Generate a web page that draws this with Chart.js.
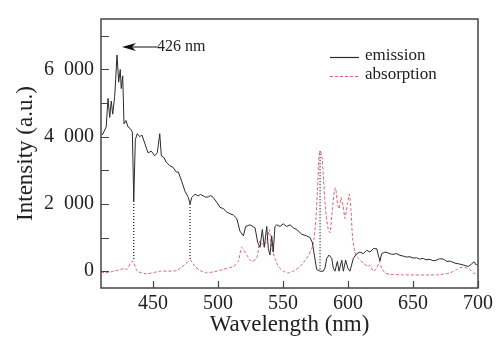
<!DOCTYPE html>
<html>
<head>
<meta charset="utf-8">
<script src="https://cdn.jsdelivr.net/npm/chart.js@4"></script>
<style>
  html, body { margin: 0; padding: 0; background: #fff; }
  #box { width: 497px; height: 339px; }
</style>
</head>
<body>
<div id="box"><canvas id="spectrum"></canvas></div>
<script>
// emission spectrum (solid black)
const emissionNm = [411, 414, 415.4, 416.7, 417.9, 419, 420.5, 421.3, 422.3, 423.6, 424.8, 425.6, 426.7, 427.7,
  429.2, 430.8, 432.5, 434.1, 435.2, 436.4, 437.9, 439.8, 441.5, 443.6, 446.2, 448.7, 451.3, 453.3, 455.2,
  456.4, 458.5, 460.2, 462.8, 465.4, 467.9, 469.5, 472.1, 474.6, 477.2, 478.5, 479.8, 482.3, 484.8, 486.5,
  488.7, 490.5, 492.5, 494.5, 496.4, 499, 501.5, 504.1, 506.7, 509.2, 511.8, 514.4, 516.9, 519.5, 521.3,
  524.6, 528.5, 530.5, 532.3, 534.1, 535.6, 537.5, 538.7, 540, 541.3, 542.5, 543.8, 545.2, 547.7, 550.2,
  552.8, 555.4, 557.9, 560.5, 564.4, 568.2, 570.8, 572.5, 574.1, 575.9, 578.5, 581, 582.3, 583.6, 585.4,
  587.5, 588.7, 590, 591.8, 593.1, 595.2, 596.4, 598.2, 599.8, 601.5, 604.1, 606.7, 609.2, 611.8, 614.4,
  616.9, 619.5, 622.1, 623.3, 624.6, 625.9, 628.5, 631, 633.6, 637.5, 640, 642.5, 645, 647.7, 650, 652.8,
  655, 657.9, 660, 663.1, 665.5, 668.2, 670.5, 673.3, 676, 678.5, 682.3, 686.2, 690, 692.5, 695.2, 696.9,
  698.5, 699.5];
const emissionVal = [4050, 4290, 5140, 4570, 5060, 4670, 5190, 5710, 6430, 5620, 6000, 5430, 5810, 4380,
  4480, 4290, 4240, 4140, 2090, 3910, 4090, 4000, 4050, 3810, 3520, 3570, 3430, 3520, 4090,
  3430, 3380, 3240, 3140, 3090, 2950, 2950, 2670, 2380, 2190, 2000, 2190, 2290, 2240, 2280,
  2240, 2200, 2210, 2250, 2190, 2050, 1900, 1860, 1760, 1710, 1670, 1570, 1190, 1050, 1330,
  1380, 1290, 860, 710, 1240, 710, 1330, 670, 480, 1050, 570, 1330, 1380, 1330, 1410,
  1330, 1380, 1290, 1240, 1100, 1050, 1000, 860, 480, 50, 0, 0, 95, 380, 480,
  380, 95, 0, 290, 0, 330, 0, 330, 95, 0, 380, 520, 570, 520, 620,
  570, 670, 670, 480, 300, 520, 570, 540, 500, 520, 470, 450, 420, 430, 390, 400,
  360, 380, 340, 350, 310, 330, 370, 360, 290, 300, 240, 210, 170, 140, 220, 280,
  190, 200];

// absorption spectrum (red dashed)
const absorptionNm = [410, 413.1, 420, 428.2, 429.8, 434.2, 437.5, 438.5, 445.2, 455.4, 468.2, 477.2, 478.8,
  482.3, 486.2, 491.3, 496.4, 504.1, 511.8, 515.6, 518.2, 522.1, 525.9, 529.8, 532.3, 534.8, 537.5,
  539.5, 541.3, 543.8, 546.4, 550.2, 554.1, 557.9, 563.1, 568.2, 572.1, 573.8, 575.4, 576.5, 577.7,
  578.8, 580.2, 581.3, 582.8, 584.8, 586.2, 587.9, 589.5, 590.5, 592.1, 593.3, 594.6, 596.2, 597.7,
  599.5, 601, 602.3, 603.6, 605.4, 607.9, 611.8, 615.6, 616.9, 619.5, 622.1, 624.1, 625.9, 628.5,
  632.3, 642.5, 668.2, 678.5, 683.6, 686.2, 690, 693.8, 696.4, 699.5];
const absorptionVal = [-20, -50, 0, 80, 50, 300, 20, -20, -80, 0, 20, 290, 330,
  140, 20, -50, -20, 50, 140, 290, 710, 480, 290, 380, 900, 760, 900,
  1240, 710, 380, 140, 0, -50, 0, 140, 380, 670, 950, 1620, 2380, 3430,
  3570, 3330, 2670, 1810, 1240, 1140, 1810, 2380, 2480, 1950, 1860, 2190, 1950, 1570,
  2000, 2290, 1810, 950, 570, 380, 240, 140, 190, 0, 95, 290, 95, -50,
  -95, -110, -110, -50, 50, 110, 110, 50, -50, -100];

// dotted connectors between emission dips and absorption peaks
const dropNm = [435.2, 478.5, 578.5];
const dropTop = [2090, 2000, 3570];
const dropBottom = [300, 330, 0];

const xTicks = [450, 500, 550, 600, 650, 700];
const yTicks = [0, 1000, 2000, 3000, 4000, 5000, 6000, 7000];

const serif = "'Liberation Serif', 'DejaVu Serif', serif";

function toPoints(xs, ys) {
  return xs.map((x, i) => ({ x: x, y: ys[i] }));
}

const datasets = [
  {
    label: "emission",
    data: toPoints(emissionNm, emissionVal),
    borderColor: "#2b2b2b",
    borderWidth: 1,
    showLine: true,
    pointRadius: 0,
    tension: 0,
  },
  {
    label: "absorption",
    data: toPoints(absorptionNm, absorptionVal),
    borderColor: "#e0606f",
    borderWidth: 1,
    borderDash: [3, 2],
    showLine: true,
    pointRadius: 0,
    tension: 0.2,
  },
];

dropNm.forEach((nm, i) => {
  datasets.push({
    label: "drop" + i,
    data: [{ x: nm, y: dropTop[i] }, { x: nm, y: dropBottom[i] }],
    borderColor: "#111",
    borderWidth: 1.2,
    borderDash: [1, 2],
    showLine: true,
    pointRadius: 0,
  });
});

// inward ticks, frame, legend and the 426 nm arrow
const decorations = {
  id: "decorations",
  afterDraw(chart) {
    const ctx = chart.ctx;
    const a = chart.chartArea;
    const xs = chart.scales.x;
    const ys = chart.scales.y;
    ctx.save();
    ctx.strokeStyle = "#444";
    ctx.lineWidth = 1.5;
    ctx.strokeRect(a.left, a.top, a.right - a.left, a.bottom - a.top);
    ctx.lineWidth = 1.2;
    ctx.beginPath();
    xTicks.forEach((v) => {
      const px = Math.round(xs.getPixelForValue(v)) + 0.5;
      ctx.moveTo(px, a.bottom);
      ctx.lineTo(px, a.bottom - 7);
    });
    yTicks.forEach((v) => {
      const py = Math.round(ys.getPixelForValue(v)) + 0.5;
      ctx.moveTo(a.left, py);
      ctx.lineTo(a.left + 8, py);
    });
    ctx.stroke();

    // legend
    ctx.font = "17px " + serif;
    ctx.textBaseline = "middle";
    ctx.fillStyle = "#222";
    ctx.strokeStyle = "#2b2b2b";
    ctx.lineWidth = 1.2;
    ctx.setLineDash([]);
    ctx.beginPath();
    ctx.moveTo(330, 57.5);
    ctx.lineTo(359, 57.5);
    ctx.stroke();
    ctx.fillText("emission", 365, 56);
    ctx.strokeStyle = "#e0606f";
    ctx.setLineDash([3, 2]);
    ctx.beginPath();
    ctx.moveTo(330, 76.5);
    ctx.lineTo(359, 76.5);
    ctx.stroke();
    ctx.setLineDash([]);
    ctx.fillText("absorption", 365, 75);

    // arrow to the 426 nm peak
    const tipX = xs.getPixelForValue(422.3) + 5;
    const tipY = 47;
    ctx.strokeStyle = "#111";
    ctx.fillStyle = "#111";
    ctx.lineWidth = 1;
    ctx.beginPath();
    ctx.moveTo(tipX + 8, tipY);
    ctx.lineTo(157, tipY);
    ctx.stroke();
    ctx.beginPath();
    ctx.moveTo(tipX, tipY);
    ctx.lineTo(tipX + 14, tipY - 4);
    ctx.lineTo(tipX + 10, tipY);
    ctx.lineTo(tipX + 14, tipY + 4);
    ctx.closePath();
    ctx.fill();
    ctx.fillStyle = "#222";
    ctx.font = "16px " + serif;
    ctx.fillText("426 nm", 157, tipY);
    ctx.restore();
  },
};

new Chart(document.getElementById("spectrum"), {
  type: "scatter",
  data: { datasets: datasets },
  plugins: [decorations],
  options: {
    responsive: true,
    maintainAspectRatio: false,
    animation: false,
    layout: { padding: { top: 7, right: 19, left: 0, bottom: 0 } },
    plugins: {
      legend: { display: false },
      tooltip: { enabled: false },
    },
    scales: {
      x: {
        type: "linear",
        min: 410,
        max: 700,
        afterBuildTicks: (s) => { s.ticks = xTicks.map((v) => ({ value: v })); },
        afterFit: (s) => { s.height = 51; },
        grid: { display: false, drawTicks: false },
        border: { display: false },
        ticks: {
          padding: 4,
          color: "#222",
          font: { family: serif, size: 20 },
          maxRotation: 0,
        },
        title: {
          display: true,
          text: "Wavelength (nm)",
          color: "#222",
          font: { family: serif, size: 23 },
          padding: { top: 0, bottom: 0 },
        },
      },
      y: {
        min: -500,
        max: 7500,
        afterBuildTicks: (s) => { s.ticks = yTicks.map((v) => ({ value: v })); },
        afterFit: (s) => { s.width = 101; },
        grid: { display: false, drawTicks: false },
        border: { display: false },
        ticks: {
          padding: 7,
          color: "#222",
          font: { family: serif, size: 20 },
          callback: (v) => (v % 2000 === 0 ? (v === 0 ? "0" : (v / 1000) + "\u2002000") : ""),
        },
        title: {
          display: true,
          text: "Intensity (a.u.)",
          color: "#222",
          font: { family: serif, size: 23 },
          padding: { top: 12, bottom: 2 },
        },
      },
    },
  },
});
</script>
</body>
</html>
